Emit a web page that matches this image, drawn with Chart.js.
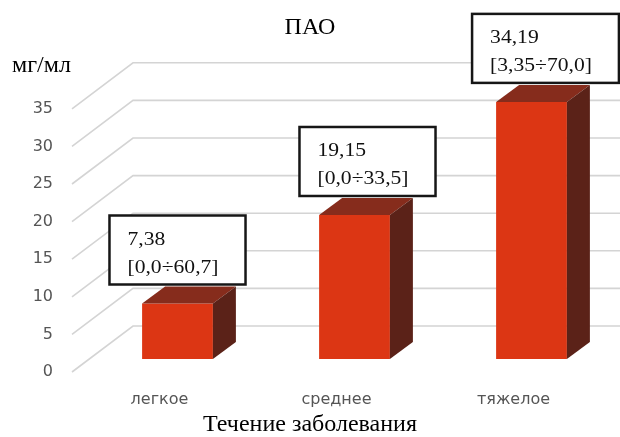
<!DOCTYPE html>
<html>
<head>
<meta charset="utf-8">
<script src="https://cdn.jsdelivr.net/npm/chart.js@4"></script>
<style>
  body { margin: 0; background: #fff; }
  canvas { display: block; }
</style>
</head>
<body>
<canvas id="paoChart" width="620" height="437"></canvas>
<script>
/*************************
 DATA
**************************/
const categories = ["легкое", "среднее", "тяжелое"];
const medians = [7.38, 19.15, 34.19];
const rangeLow = [0.0, 0.0, 3.35];
const rangeHigh = [60.7, 33.5, 70.0];
const yTicks = [0, 5, 10, 15, 20, 25, 30, 35];

/*************************
 STYLE
**************************/
const FRONT = "#dc3614";
const TOP = "#862c1c";
const SIDE = "#5b2218";
const GRID = "#d4d4d4";
const DEPTH_X = 23, DEPTH_Y = -17;      // bar depth
const FLOOR_FRONT = { x: -17, y: 13 };   // grid front edge vs bar plane
const FLOOR_BACK = { x: 44, y: -33 };    // grid back edge vs bar plane
const labelShift = [0, 13, 14];          // box centre shift from bar centre
const SERIF = "'Liberation Serif', 'Times New Roman', serif";
const SANS = "'DejaVu Sans', sans-serif";

function fmt(v) {
  const oneDec = Math.abs(v * 10 - Math.round(v * 10)) < 1e-9;
  return (oneDec ? v.toFixed(1) : v.toFixed(2)).replace(".", ",");
}

/*************************
 3D PLUGIN
**************************/
const bars3d = {
  id: "bars3d",
  beforeDatasetsDraw(chart) {
    const { ctx, chartArea, scales } = chart;
    const y = scales.y;
    ctx.save();
    ctx.strokeStyle = GRID;
    ctx.lineWidth = 1.6;
    yTicks.forEach(v => {
      const py = y.getPixelForValue(v);
      ctx.beginPath();
      ctx.moveTo(chartArea.left + FLOOR_FRONT.x, py + FLOOR_FRONT.y);
      ctx.lineTo(chartArea.left + FLOOR_BACK.x, py + FLOOR_BACK.y);
      ctx.lineTo(chart.width, py + FLOOR_BACK.y);
      ctx.stroke();
    });
    ctx.restore();
  },
  afterDatasetsDraw(chart) {
    const { ctx } = chart;
    const meta = chart.getDatasetMeta(0);
    ctx.save();
    meta.data.forEach((bar, i) => {
      const l = bar.x - bar.width / 2;
      const r = bar.x + bar.width / 2;
      // top face
      ctx.fillStyle = TOP;
      ctx.beginPath();
      ctx.moveTo(l, bar.y);
      ctx.lineTo(l + DEPTH_X, bar.y + DEPTH_Y);
      ctx.lineTo(r + DEPTH_X, bar.y + DEPTH_Y);
      ctx.lineTo(r, bar.y);
      ctx.closePath();
      ctx.fill();
      // side face
      ctx.fillStyle = SIDE;
      ctx.beginPath();
      ctx.moveTo(r, bar.y);
      ctx.lineTo(r + DEPTH_X, bar.y + DEPTH_Y);
      ctx.lineTo(r + DEPTH_X, bar.base + DEPTH_Y);
      ctx.lineTo(r, bar.base);
      ctx.closePath();
      ctx.fill();

      // label box
      const line1 = fmt(medians[i]);
      const line2 = "[" + fmt(rangeLow[i]) + "÷" + fmt(rangeHigh[i]) + "]";
      ctx.font = "18px " + SERIF;
      const stretch = 1.2;
      const tw = Math.max(ctx.measureText(line1).width, ctx.measureText(line2).width) * stretch;
      const bw = 18 + tw + 27;
      const bh = 69;
      const bx = bar.x + labelShift[i] - bw / 2;
      const by = bar.y + DEPTH_Y - 2 - bh;
      ctx.fillStyle = "#fff";
      ctx.fillRect(bx, by, bw, bh);
      ctx.strokeStyle = "#161616";
      ctx.lineWidth = 2.5;
      ctx.strokeRect(bx, by, bw, bh);
      ctx.fillStyle = "#111";
      ctx.textAlign = "left";
      ctx.textBaseline = "alphabetic";
      [[line1, 29], [line2, 57]].forEach(([t, off]) => {
        ctx.save();
        ctx.translate(bx + 18, by + off);
        ctx.scale(stretch, 1);
        ctx.fillText(t, 0, 0);
        ctx.restore();
      });
    });
    ctx.restore();
  },
  afterDraw(chart) {
    const { ctx, chartArea } = chart;
    ctx.save();
    ctx.font = "24px " + SERIF;
    ctx.fillStyle = "#000";
    ctx.textAlign = "left";
    ctx.textBaseline = "alphabetic";
    ctx.fillText("мг/мл", chartArea.left - 77, chartArea.top - 24);
    ctx.restore();
  }
};

/*************************
 CHART
**************************/
const ctx = document.getElementById("paoChart").getContext("2d");
const paoChart = new Chart(ctx, {
  type: "bar",
  data: {
    labels: categories,
    datasets: [{
      data: medians,
      backgroundColor: FRONT,
      borderWidth: 0,
      barPercentage: 0.4,
      categoryPercentage: 1
    }]
  },
  options: {
    responsive: false,
    animation: false,
    layout: { padding: 0 },
    plugins: {
      legend: { display: false },
      tooltip: { enabled: false },
      title: {
        display: true,
        text: "ПАО",
        color: "#000",
        font: { family: SERIF, size: 24, weight: "normal", lineHeight: 1.2 },
        padding: { top: 13, bottom: 54 }
      },
      subtitle: {
        display: true,
        position: "bottom",
        text: "Течение заболевания",
        color: "#000",
        font: { family: SERIF, size: 24, weight: "normal", lineHeight: 1 },
        padding: { top: 0, bottom: 0 }
      }
    },
    scales: {
      x: {
        grid: { display: false, drawTicks: false },
        border: { display: false },
        ticks: {
          color: "#555555",
          font: { family: SANS, size: 16 },
          padding: 31,
          labelOffset: -18
        },
        afterFit(scale) { scale.height = 54; }
      },
      y: {
        min: 0,
        max: 35,
        grid: { display: false, drawTicks: false },
        border: { display: false },
        ticks: {
          stepSize: 5,
          color: "#555555",
          font: { family: SANS, size: 16 },
          padding: 36,
          labelOffset: 13
        },
        afterFit(scale) { scale.width = 89; }
      }
    }
  },
  plugins: [bars3d]
});
</script>
</body>
</html>
